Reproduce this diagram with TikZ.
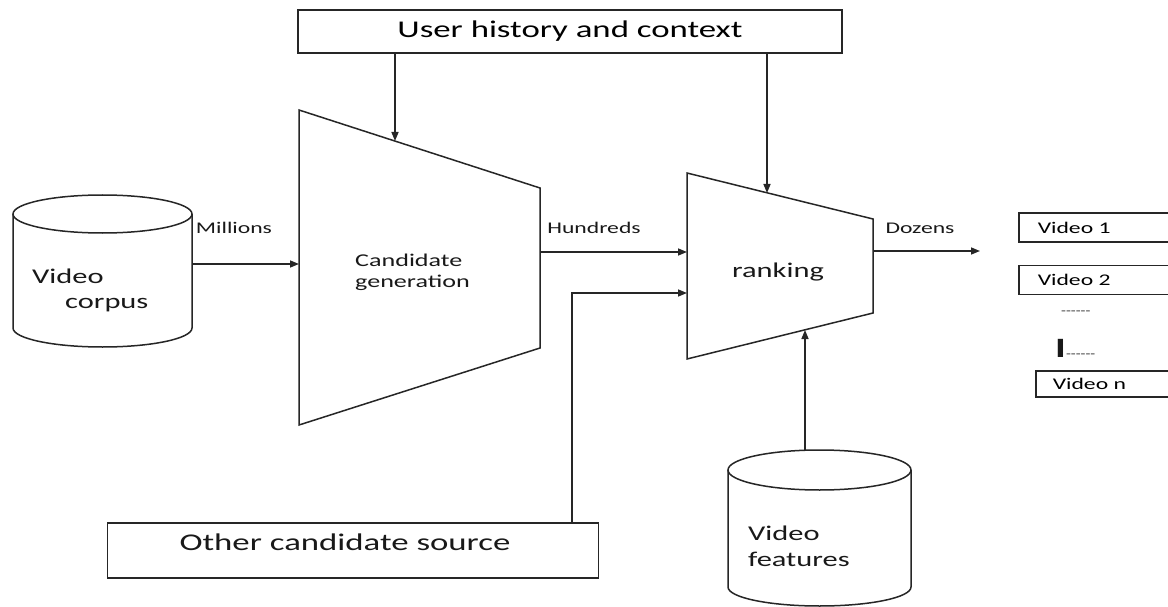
\documentclass[tikz,border=0pt]{standalone}
\usepackage{fontspec}
\setmainfont{Carlito}[FakeStretch=1.45]
\usetikzlibrary{arrows.meta}
\newcommand{\fsz}[1]{\fontsize{#1}{#1}\selectfont}
\newcommand{\hy}{-{}-{}-{}-{}-{}-}
\begin{document}
\begin{tikzpicture}[x=1pt,y=-1pt,
  ln/.style={draw=black!85,line width=1.5pt},
  arr/.style={ln,-{Triangle[length=9pt,width=7pt]}},
  box/.style={ln,inner sep=0pt},
  lbl/.style={inner sep=0pt,text=black!90},
  listbox/.style={ln,anchor=west,minimum height=29pt,text width=150pt,inner xsep=19pt,inner ysep=0pt,align=left,font=\fsz{16.3}}
]
\useasboundingbox (0,0) rectangle (1168,607);
\clip (0,0) rectangle (1168,607);
\fill[white] (0,0) rectangle (1168,607);

% top box
\node[box,minimum width=544pt,minimum height=43pt,font=\fsz{24}] (uh) at (570,31.5) {User history and context};

% other candidate source box
\node[box,minimum width=491pt,minimum height=55pt] (ocs) at (353,550.5) {};
\node[lbl,font=\fsz{24}] (ocslabel) at (345,542) {Other candidate source};

% candidate generation trapezoid
\draw[ln,line join=miter] (299,110) -- (540,188) -- (540,348) -- (299,425) -- cycle;
\node[lbl,font=\fsz{18},align=left,anchor=north west] (cg) at (355,254) {Candidate\\[3pt]generation};
\coordinate (cgtop) at (395,141);
\coordinate (cgin) at (299,264);
\coordinate (cgout) at (540,252);

% ranking trapezoid
\draw[ln,line join=miter] (687,173) -- (873,219) -- (873,313) -- (687,359) -- cycle;
\node[lbl,font=\fsz{21}] (rk) at (778,272) {ranking};
\coordinate (rktop) at (767,193);
\coordinate (rkin1) at (687,252);
\coordinate (rkin2) at (687,293);
\coordinate (rkbot) at (805,330);
\coordinate (rkout) at (873,251);
\coordinate (outend) at (980,251);

% video corpus cylinder
\draw[ln] (102.5,214) ellipse [x radius=89.5pt,y radius=19pt];
\draw[ln] (13,214) -- (13,328) arc[start angle=180,end angle=360,x radius=89.5pt,y radius=19pt] -- (192,214);
\node[lbl,font=\fsz{21},align=left,anchor=north west] (vc) at (32,269) {Video\\[4pt]\hspace*{33pt}corpus};
\coordinate (vcout) at (192,264);

% video features cylinder
\draw[ln] (819.5,470) ellipse [x radius=91.5pt,y radius=20pt];
\draw[ln] (728,470) -- (728,587) arc[start angle=180,end angle=360,x radius=91.5pt,y radius=19pt] -- (911,470);
\node[lbl,font=\fsz{21},align=left,anchor=north west] (vf) at (748,526) {Video\\[5pt]features};
\coordinate (vfout) at (805,450);

% connectors
\draw[arr] (uh.south -| cgtop) -- (cgtop);
\draw[arr] (uh.south -| rktop) -- (rktop);
\draw[arr] (vcout) -- (cgin);
\draw[arr] (cgout) -- (rkin1);
\draw[arr] (rkout) -- (outend);
\draw[arr] (vfout) -- (rkbot);
\coordinate (ocsout) at (572,523);
\draw[arr] (ocsout) |- (rkin2);

% edge labels
\node[lbl,font=\fsz{16.3}] (mil) at (234,228) {Millions};
\node[lbl,font=\fsz{16.3}] (hun) at (594,228) {Hundreds};
\node[lbl,font=\fsz{16.3}] (doz) at (920,228) {Dozens};

% output list
\node[listbox] (v1) at (1018,227.5) {Video 1};
\node[listbox] (v2) at (1018,280) {Video 2};
\node[lbl,font=\fsz{11},anchor=west] (d1) at (1061,313) {\hy};
\node[lbl,anchor=base west] (d2) at (1055,357) {{\fsz{28}\bfseries I}{\fsz{11}\hy}};
\node[listbox,minimum height=26pt,inner xsep=17pt] (vn) at (1035,384) {Video n};
\end{tikzpicture}
\end{document}
